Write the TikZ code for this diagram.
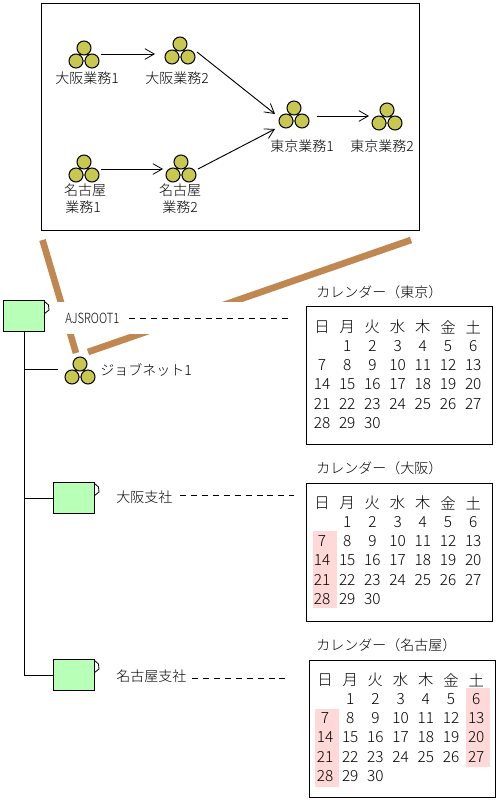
\documentclass[tikz,border=0pt]{standalone}
\usepackage{fontspec}
\setmainfont{Noto Sans CJK JP}[UprightFont=* Light]
\newfontfamily\narrowfont[FakeStretch=.8]{Noto Sans CJK JP Light}
\usetikzlibrary{arrows.meta,calc}
\definecolor{olive}{HTML}{C8C850}
\definecolor{mint}{HTML}{B8FFB8}
\definecolor{blush}{HTML}{FFD8D8}
\definecolor{tan}{HTML}{C08850}
\tikzset{
  lab/.style={inner sep=0pt,font=\fontsize{10.5}{12}\selectfont},
  cell/.style={inner sep=0pt,font=\fontsize{11.5}{12}\selectfont},
  arr/.style={line width=.7pt,-{Straight Barb[length=7pt,width=8pt,line width=.6pt]}},
  wire/.style={line width=.75pt},
  dashline/.style={line width=.75pt,dash pattern=on 4.5pt off 3.7pt},
  band/.style={tan,line width=5pt},
  frame/.style={draw=black,line width=.8pt},
  ball/.style={circle,draw=black,line width=.75pt,fill=olive,minimum size=10.5pt,inner sep=0pt},
  hub/.style={inner sep=0pt,minimum size=0pt},
  cal/.style={draw=black,line width=.8pt,fill=white},
  shade/.style={fill=blush,draw=none},
  unit/.style={draw=black,line width=.8pt,fill=mint,inner sep=0pt,minimum width=30.5pt,minimum height=23pt},
  flap/.style={draw=black,line width=.6pt,fill=white}
}
\newcommand{\jobicon}[3]{%
  \node[hub] (#1) at (#2,#3+7) {};
  \draw[line width=.7pt] (#2,#3) -- (#2-8,#3+13) -- (#2+8,#3+13) -- cycle;
  \node[ball] (#1t) at (#2,#3) {};
  \node[ball] (#1l) at (#2-8,#3+13) {};
  \node[ball] (#1r) at (#2+8,#3+13) {};
}
\newcommand{\unitbox}[3]{%
  \draw[flap] (#2+40,#3+1) -- (#2+41,#3+1) -- (#2+45.5,#3+5) -- (#2+46,#3+10) -- (#2+41,#3+14) -- (#2+40,#3+14);
  \node[unit,anchor=north west] (#1) at (#2,#3) {};
}
\newcommand{\calgrid}[3]{%
  \foreach \w [count=\i from 0] in {日,月,火,水,木,金,土}{
    \node[cell] (#1w\i) at ({#2+25.2*\i},#3) {\w};
  }
  \foreach \d in {1,...,30}{
    \pgfmathtruncatemacro{\c}{mod(\d,7)}
    \pgfmathtruncatemacro{\r}{int(\d/7)}
    \node[cell] (#1d\d) at ({#2+25.2*\c},{#3+19+19.2*\r}) {\d};
  }
}
\begin{document}
\begin{tikzpicture}[x=.75pt,y=-.75pt]
\useasboundingbox (0,0) rectangle (499,800);
\coordinate (bandA) at (42.5,240);
\coordinate (bandB) at (411,240);
\coordinate (bandEndA) at (76,353);
\coordinate (bandEndB) at (88,352);
\draw[band] (bandA) -- (bandEndA);
\draw[band] (bandB) -- (bandEndB);
\fill[white] (40,302) rectangle (300,334);
\node[frame,inner sep=0pt,minimum width=283.5pt,minimum height=170.25pt,anchor=north west] (detail) at (41,3) {};
\jobicon{ja}{84}{48}
\jobicon{jb}{180}{44}
\jobicon{jc}{84}{162}
\jobicon{jd}{181}{162}
\jobicon{je}{294}{108}
\jobicon{jf}{387}{110}
\node[lab] (la) at (87,78) {大阪業務1};
\node[lab] (lb) at (177,78) {大阪業務2};
\node[lab] (lc1) at (85,190) {名古屋};
\node[lab] (lc2) at (83,207) {業務1};
\node[lab] (ld1) at (180,190) {名古屋};
\node[lab] (ld2) at (180,207) {業務2};
\node[lab] (le) at (302,146) {東京業務1};
\node[lab] (lf) at (382,146) {東京業務2};
\draw[arr] ($(ja)+(17,-1)$) -- ($(jb)+(-25,3)$);
\draw[arr] ($(jb)+(17,1)$) -- ($(je)+(-19,-1)$);
\draw[arr] ($(jc)+(17,0)$) -- ($(jd)+(-18,0)$);
\draw[arr] ($(jd)+(17,0)$) -- ($(je)+(-19,14)$);
\draw[arr] ($(je)+(23,1)$) -- ($(jf)+(-18,-1)$);
\unitbox{root}{3}{300}
\unitbox{osaka}{53}{482}
\unitbox{nagoya}{53}{659}
\coordinate (trunkEnd) at (24,675);
\draw[wire] (root.south -| trunkEnd) -- (trunkEnd);
\draw[wire] (trunkEnd) -- (nagoya.west |- trunkEnd);
\draw[wire] (24,498) -- (osaka.west |- 0,498);
\jobicon{net}{80}{364}
\draw[wire] (24,369) -- (58,369);
\node[lab,anchor=west] (lroot) at (65,318) {\narrowfont\fontsize{10.5}{12}\selectfont AJSROOT1};
\node[lab,anchor=west] (lnet) at (100,370) {ジョブネット1};
\node[lab,anchor=west] (losaka) at (116,497) {大阪支社};
\node[lab,anchor=west] (lnagoya) at (116,676) {名古屋支社};
\coordinate (endA) at (288,318);
\coordinate (endB) at (294,495);
\coordinate (endC) at (290,678);
\draw[dashline] (129,318) -- (endA);
\draw[dashline] (180,495) -- (endB);
\draw[dashline] (192,678) -- (endC);
\node[lab,anchor=west] (tA) at (316,292) {カレンダー（東京）};
\node[cal,inner sep=0pt,minimum width=139.5pt,minimum height=103.5pt,anchor=north west] (calA) at (306,306) {};
\calgrid{a}{322}{327}
\node[lab,anchor=west] (tB) at (316,468) {カレンダー（大阪）};
\node[cal,inner sep=0pt,minimum width=139.5pt,minimum height=103.5pt,anchor=north west] (calB) at (306,483) {};
\fill[shade] (313,531) rectangle (337,608);
\calgrid{b}{322}{503}
\node[lab,anchor=west] (tC) at (316,645) {カレンダー（名古屋）};
\node[cal,inner sep=0pt,minimum width=139.5pt,minimum height=103pt,anchor=north west] (calC) at (308.5,660) {};
\fill[shade] (315,709) rectangle (339,787);
\fill[shade] (466,688) rectangle (490,767);
\calgrid{c}{325}{680}
\end{tikzpicture}
\end{document}
